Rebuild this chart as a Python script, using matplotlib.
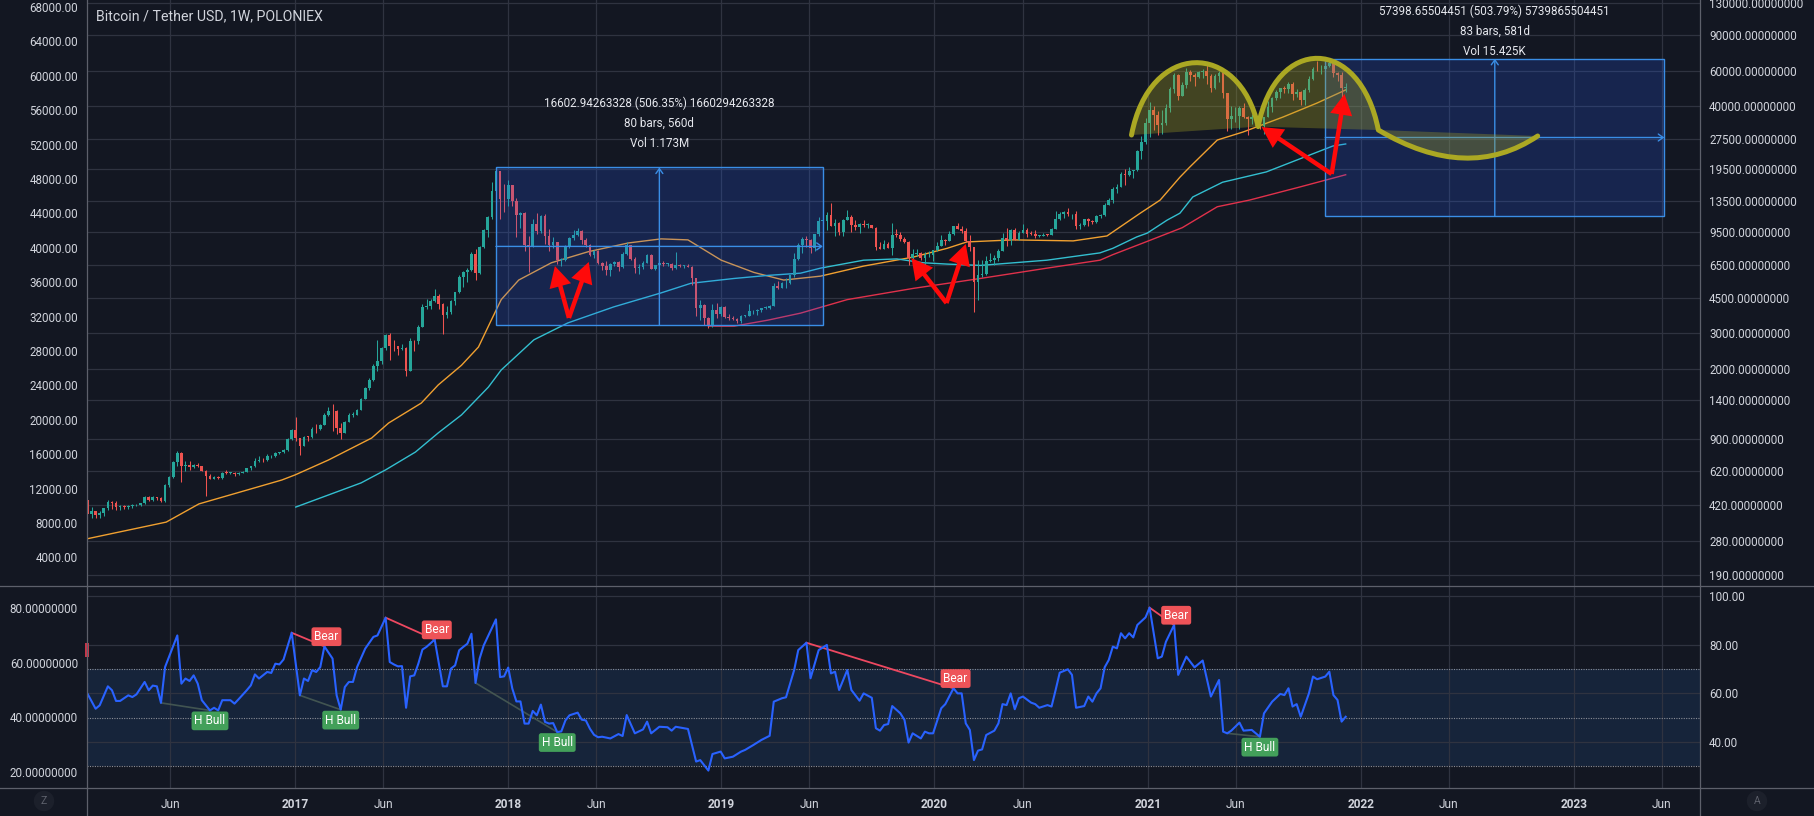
import numpy as np
import matplotlib
matplotlib.use("Agg")
import matplotlib.pyplot as plt
import matplotlib.dates as mdates
from matplotlib.path import Path
from matplotlib.patches import PathPatch, Rectangle
from matplotlib.lines import Line2D
from matplotlib.ticker import NullLocator

plt.rcParams['font.family'] = ['Roboto', 'DejaVu Sans']

# ---------------- data ----------------
first_week = '2016-01-11'   # weekly bars: open, high, low, close

ohlc_2016 = [
    (448, 450, 360, 382), (382, 410, 365, 392), (392, 396, 362, 376), (376, 395, 365, 385),
    (385, 408, 370, 407), (407, 445, 400, 437), (437, 443, 405, 432), (432, 440, 400, 412),
    (412, 420, 398, 415), (415, 420, 405, 410), (410, 420, 405, 416), (416, 425, 408, 420),
    (420, 425, 415, 423), (423, 432, 418, 430), (430, 465, 428, 460), (460, 470, 440, 448),
    (448, 465, 440, 460), (460, 463, 445, 455), (455, 460, 435, 440), (440, 535, 438, 530),
    (530, 590, 520, 580), (580, 700, 575, 690), (690, 780, 660, 760), (760, 770, 550, 660),
    (660, 700, 620, 665), (665, 700, 630, 650), (650, 675, 640, 665), (665, 680, 650, 655),
    (655, 660, 620, 625), (625, 630, 470, 590), (590, 600, 570, 570), (570, 585, 565, 580),
    (580, 590, 565, 572), (572, 615, 570, 608), (608, 630, 600, 607), (607, 612, 600, 608),
    (608, 612, 590, 600), (600, 612, 595, 610), (610, 620, 605, 616), (616, 645, 612, 640),
    (640, 660, 630, 655), (655, 720, 650, 700), (700, 740, 690, 705), (705, 720, 690, 702),
    (702, 755, 695, 735), (735, 750, 725, 735), (735, 770, 730, 765), (765, 775, 755, 772),
    (772, 795, 765, 790), (790, 905, 785, 895), (895, 1000, 890, 995),
]
ohlc_2017 = [
    (995, 1150, 880, 905), (905, 910, 750, 830), (830, 930, 825, 920), (920, 930, 880, 915),
    (915, 1030, 910, 1010), (1010, 1060, 960, 1000), (1000, 1060, 990, 1055), (1055, 1200, 1050, 1180),
    (1180, 1290, 1160, 1240), (1240, 1330, 980, 1230), (1230, 1250, 950, 1020), (1020, 1075, 900, 965),
    (965, 1100, 960, 1090), (1090, 1200, 1085, 1180), (1180, 1220, 1150, 1180), (1180, 1260, 1175, 1250),
    (1250, 1430, 1245, 1420), (1420, 1620, 1410, 1600), (1600, 1800, 1560, 1750), (1750, 2100, 1740, 2050),
    (2050, 2790, 1950, 2180), (2180, 2550, 2100, 2520), (2520, 2980, 2480, 2950), (2950, 2990, 2200, 2600),
    (2600, 2780, 2450, 2580), (2580, 2600, 2330, 2500), (2500, 2640, 2480, 2520), (2520, 2560, 1830, 1950),
    (1950, 2850, 1940, 2750), (2750, 2790, 2450, 2730), (2730, 3280, 2650, 3220), (3220, 4200, 3200, 4050),
    (4050, 4450, 3950, 4100), (4100, 4450, 3950, 4350), (4350, 4950, 4300, 4600), (4600, 4700, 3950, 4200),
    (4200, 4250, 2970, 3700), (3700, 4100, 3550, 3800), (3800, 4400, 3750, 4350), (4350, 4820, 4150, 4800),
    (4800, 5850, 4750, 5700), (5700, 6100, 5100, 6000), (6000, 6280, 5400, 6150), (6150, 7600, 6100, 7400),
    (7400, 7880, 5500, 5950), (5950, 8100, 5900, 8000), (8000, 9800, 7900, 9700), (9700, 11400, 9000, 11300),
    (11300, 16800, 11000, 15200), (15200, 19880, 15000, 19000), (19000, 19200, 11000, 13900),
    (13900, 16500, 12000, 13800),
]
ohlc_2018 = [
    (13800, 17200, 12800, 16200), (16200, 16300, 12800, 13600), (13600, 14100, 9000, 11500),
    (11500, 12000, 10000, 11800), (11800, 11900, 7700, 8200), (8200, 9100, 6000, 8100),
    (8100, 11000, 8000, 10400), (10400, 11800, 9300, 9600), (9600, 11500, 9400, 11400),
    (11400, 11700, 8300, 9100), (9100, 9900, 7700, 8200), (8200, 9000, 7900, 8500),
    (8500, 8500, 6600, 6900), (6900, 7100, 6450, 6900), (6900, 8200, 6800, 8000),
    (8000, 9000, 7900, 8900), (8900, 9750, 8700, 9250), (9250, 9950, 9100, 9650),
    (9650, 9700, 8300, 8700), (8700, 8900, 8050, 8200), (8200, 8300, 7250, 7350),
    (7350, 7750, 7050, 7700), (7700, 7780, 6600, 6700), (6700, 6750, 6150, 6450),
    (6450, 6800, 5850, 6150), (6150, 6650, 5780, 6600), (6600, 6800, 6450, 6750),
    (6750, 6800, 6100, 6350), (6350, 7550, 6300, 7400), (7400, 8500, 7300, 8200),
    (8200, 8250, 6900, 7000), (7000, 7150, 5950, 6300), (6300, 6600, 5900, 6400),
    (6400, 6800, 6250, 6700), (6700, 7380, 6650, 7300), (7300, 7420, 6250, 6250),
    (6250, 6550, 6150, 6500), (6500, 6800, 6200, 6700), (6700, 6800, 6450, 6600),
    (6600, 6700, 6450, 6600), (6600, 6650, 6150, 6300), (6300, 7580, 6250, 6500),
    (6500, 6600, 6400, 6450), (6450, 6500, 6300, 6450), (6450, 6580, 6350, 6400),
    (6400, 6450, 5200, 5600), (5600, 5600, 3650, 4000), (4000, 4400, 3500, 4150),
    (4150, 4200, 3300, 3550), (3550, 3600, 3170, 3250), (3250, 4200, 3220, 3900),
    (3900, 4250, 3550, 3750), (3750, 4100, 3650, 4050),
]
ohlc_2019 = [
    (4050, 4100, 3550, 3600), (3600, 3750, 3480, 3560), (3560, 3650, 3480, 3530), (3530, 3550, 3380, 3440),
    (3440, 3700, 3370, 3650), (3650, 3700, 3590, 3660), (3660, 4200, 3650, 3850), (3850, 3900, 3750, 3870),
    (3870, 3950, 3700, 3900), (3900, 4000, 3800, 4000), (4000, 4100, 3950, 4000), (4000, 4150, 3950, 4100),
    (4100, 5300, 4080, 5150), (5150, 5450, 4950, 5050), (5050, 5350, 5000, 5300), (5300, 5650, 5050, 5300),
    (5300, 5850, 5250, 5800), (5800, 7500, 5700, 7000), (7000, 8350, 6900, 8200), (8200, 8950, 7500, 8750),
    (8750, 9050, 8000, 8700), (8700, 8800, 7450, 7950), (7950, 9350, 7700, 9300), (9300, 11300, 9100, 10800),
    (10800, 13850, 10300, 10800), (10800, 12000, 9700, 11500), (11500, 13200, 10200, 10200),
    (10200, 11000, 9100, 10500), (10500, 10650, 9250, 9500), (9500, 11000, 9100, 10900),
    (10900, 12300, 10900, 11300), (11300, 11500, 9500, 10300), (10300, 10950, 9700, 10100),
    (10100, 10600, 9400, 10400), (10400, 10900, 10100, 10300), (10300, 10500, 10000, 10300),
    (10300, 10350, 9950, 10000), (10000, 10050, 7750, 8050), (8050, 8500, 7800, 7850),
    (7850, 8650, 7800, 8300), (8300, 8450, 7900, 7950), (7950, 10500, 7300, 9250),
    (9250, 9800, 8950, 9200), (9200, 9500, 8600, 8800), (8800, 9000, 8400, 8500),
    (8500, 8550, 6500, 7100), (7100, 7800, 7000, 7400), (7400, 7850, 7250, 7500),
    (7500, 7600, 6900, 7100), (7100, 7550, 6450, 7300), (7300, 7650, 7150, 7300),
    (7300, 7600, 6850, 7750),
]
ohlc_2020 = [
    (7750, 8450, 7700, 8150), (8150, 9200, 8100, 8700), (8700, 8800, 8250, 8600), (8600, 9600, 8550, 9350),
    (9350, 10150, 9150, 10150), (10150, 10500, 9800, 9900), (9900, 10250, 9450, 9650), (9650, 9950, 8500, 8550),
    (8550, 9200, 7700, 8000), (8000, 8000, 3800, 5350), (5350, 6900, 4400, 5800), (5800, 6950, 5700, 5900),
    (5900, 7200, 5850, 6800), (6800, 7450, 6750, 6900), (6900, 7300, 6550, 7100), (7100, 7800, 6850, 7700),
    (7700, 9450, 7650, 8900), (8900, 10000, 8100, 8700), (8700, 9850, 8200, 9700), (9700, 9950, 8700, 8700),
    (8700, 9600, 8650, 9450), (9450, 10400, 9400, 9750), (9750, 9950, 9000, 9350), (9350, 9600, 9200, 9300),
    (9300, 9750, 8850, 9100), (9100, 9250, 8950, 9100), (9100, 9450, 9050, 9250), (9250, 9300, 9050, 9200),
    (9200, 9950, 9150, 9900), (9900, 12100, 9900, 11050), (11050, 11900, 10950, 11700),
    (11700, 12100, 11200, 11900), (11900, 12450, 11400, 11650), (11650, 11700, 11100, 11700),
    (11700, 12100, 9900, 10250), (10250, 10600, 9850, 10300), (10300, 11100, 10200, 11050),
    (11050, 11150, 10150, 10750), (10750, 10950, 10400, 10650), (10650, 11500, 10550, 11400),
    (11400, 11700, 11200, 11500), (11500, 13250, 11400, 13000), (13000, 14100, 12950, 13750),
    (13750, 15950, 13250, 15500), (15500, 16500, 14800, 16000), (16000, 18800, 15950, 18400),
    (18400, 19450, 16300, 18200), (18200, 19900, 18100, 19150), (19150, 19400, 17600, 19250),
    (19250, 24200, 19050, 23900), (23900, 28400, 21850, 26500), (26500, 34800, 26000, 33000),
]
ohlc_2021 = [
    (33000, 41900, 28000, 38200), (38200, 40100, 30400, 36000), (36000, 37800, 28900, 32300),
    (32300, 38500, 29200, 33100), (33100, 40900, 32300, 39200), (39200, 49700, 37400, 48600),
    (48600, 58300, 46300, 57400), (57400, 57500, 43000, 45100), (45100, 52600, 44900, 51200),
    (51200, 61700, 49200, 59000), (59000, 60600, 53300, 57400), (57400, 58600, 50400, 55800),
    (55800, 60000, 55400, 58900), (58900, 61200, 55500, 60000), (60000, 64800, 51500, 56200),
    (56200, 57500, 47000, 49000), (49000, 58000, 48800, 56600), (56600, 59500, 53000, 58200),
    (58200, 59600, 43800, 46400), (46400, 46600, 30000, 34700), (34700, 40000, 31000, 35700),
    (35700, 39500, 33500, 35800), (35800, 40000, 31000, 39100), (39100, 41300, 34800, 35500),
    (35500, 35800, 28800, 34700), (34700, 36600, 32700, 35300), (35300, 35500, 32100, 34200),
    (34200, 34500, 31000, 31800), (31800, 35400, 29300, 35400), (35400, 42500, 35400, 39800),
    (39800, 44700, 37500, 43800), (43800, 48100, 43000, 47000), (47000, 49400, 43900, 49300),
    (49300, 50500, 46400, 48800), (48800, 52900, 46500, 51800), (51800, 52900, 43000, 46000),
    (46000, 48800, 44700, 47200), (47200, 47400, 40600, 43200), (43200, 49200, 40800, 48200),
    (48200, 56600, 47100, 54900), (54900, 62900, 54000, 61500), (61500, 67000, 59600, 61000),
    (61000, 63700, 58000, 61300), (61300, 64300, 59400, 63300), (63300, 69000, 62300, 65500),
    (65500, 66300, 55600, 58600), (58600, 59300, 53500, 57300), (57300, 59100, 42000, 49400),
    (49400, 51900, 47300, 50100),
]

# moving averages (date, value)
sma50 = [('2016-01-11', 287), ('2016-05-25', 347), ('2016-07-20', 427), ('2016-12-09', 561),
         ('2017-01-01', 595), ('2017-02-27', 705), ('2017-05-12', 906), ('2017-06-10', 1075),
         ('2017-08-05', 1350), ('2017-09-03', 1660), ('2017-10-13', 2080), ('2017-11-11', 2560),
         ('2017-12-03', 3480), ('2017-12-20', 4400), ('2018-01-19', 5500), ('2018-03-16', 6700),
         ('2018-05-18', 7600), ('2018-07-26', 8400), ('2018-09-20', 8800), ('2018-11-05', 8700),
         ('2019-01-01', 6900), ('2019-02-26', 6000), ('2019-04-18', 5500), ('2019-06-20', 5750),
         ('2019-09-02', 6450), ('2019-11-26', 7150), ('2020-01-23', 7900), ('2020-02-26', 8500),
         ('2020-05-15', 8700), ('2020-08-26', 8600), ('2020-10-23', 9100), ('2020-12-19', 11800),
         ('2021-01-22', 13700), ('2021-02-25', 17800), ('2021-03-14', 20000), ('2021-04-30', 27200),
         ('2021-06-13', 29800), ('2021-08-21', 35400), ('2021-10-18', 41500), ('2021-12-06', 48200)]
sma100 = [('2017-01-02', 412), ('2017-02-27', 473), ('2017-04-24', 543), ('2017-06-05', 630),
          ('2017-07-26', 772), ('2017-09-03', 960), ('2017-10-13', 1180), ('2017-11-28', 1620),
          ('2017-12-20', 1970), ('2018-02-14', 2780), ('2018-04-13', 3370), ('2018-07-01', 4050),
          ('2018-09-20', 4750), ('2018-11-10', 5300), ('2019-01-23', 5600), ('2019-03-22', 5800),
          ('2019-05-17', 5950), ('2019-06-20', 6300), ('2019-09-02', 6900), ('2019-10-29', 7000),
          ('2019-12-13', 6700), ('2020-01-23', 6600), ('2020-03-20', 6500), ('2020-07-12', 6900),
          ('2020-10-11', 7500), ('2020-11-02', 7900), ('2020-12-13', 9000), ('2020-12-31', 9400),
          ('2021-02-03', 10900), ('2021-02-25', 11800), ('2021-03-19', 14200), ('2021-05-09', 16800),
          ('2021-07-23', 18900), ('2021-09-23', 22200), ('2021-11-14', 25400), ('2021-12-06', 26000)]
sma200 = [('2018-12-10', 3250), ('2019-01-23', 3250), ('2019-03-22', 3480), ('2019-05-17', 3770),
          ('2019-08-05', 4400), ('2019-11-26', 5000), ('2020-03-20', 5600), ('2020-07-12', 6300),
          ('2020-10-11', 6900), ('2020-11-02', 7350), ('2020-12-24', 8400), ('2021-03-01', 10000),
          ('2021-04-30', 12700), ('2021-06-24', 13700), ('2021-09-18', 15900), ('2021-12-06', 18300)]

# RSI (week number from first_week, value)
rsi_2016 = [(0, 59.9), (2, 53.7), (3, 55.1), (5, 62.9), (6, 61.3), (7, 56.9), (8, 56.9), (10, 59.2),
            (11, 58.5), (12, 59.6), (14, 64.7), (15, 61.3), (16, 63.2), (17, 62.9), (18, 56.1),
            (19, 70.8), (22, 83.8), (23, 64.0), (24, 66.1), (25, 65.1), (26, 67.4), (27, 64.0),
            (28, 57.2), (30, 53.0), (31, 54.1), (32, 53.0), (33, 57.2), (35, 57.2), (36, 55.8),
            (37, 57.6), (39, 61.3), (40, 63.3), (41, 67.8), (42, 66.1), (44, 68.8), (45, 68.4),
            (46, 72.2), (47, 71.9), (48, 73.9), (50, 84.9)]
rsi_2017 = [(52, 59.2), (53, 66.1), (54, 65.1), (55, 69.5), (56, 68.8), (57, 70.8), (58, 79.3),
            (60, 74.3), (61, 59.2), (62, 53.3), (63, 62.6), (64, 64.7), (65, 64.7), (66, 70.8),
            (68, 78.4), (70, 83.2), (71, 83.8), (73, 91.1), (74, 72.9), (75, 71.9), (76, 71.1),
            (77, 71.2), (78, 54.1), (79, 67.0), (80, 67.4), (81, 72.2), (82, 78.0), (83, 79.1),
            (85, 82.1), (86, 72.5), (87, 62.9), (88, 62.9), (89, 70.2), (90, 71.5), (91, 77.7),
            (92, 79.1), (93, 80.4), (94, 84.5), (95, 64.3), (96, 74.3), (97, 79.7), (100, 90.4),
            (101, 66.7), (102, 67.0)]
rsi_2018 = [(103, 70.6), (104, 62.0), (105, 56.7), (106, 56.7), (107, 47.6), (108, 47.6), (109, 52.8),
            (110, 51.0), (111, 55.4), (112, 48.3), (113, 47.6), (114, 47.8), (115, 44.1), (116, 44.4),
            (117, 48.9), (118, 51.0), (120, 52.1), (121, 49.2), (122, 48.9), (123, 45.5), (124, 43.0),
            (125, 42.0), (126, 42.2), (128, 41.5), (130, 43.3), (131, 42.5), (132, 51.1), (134, 43.6),
            (136, 45.2), (137, 48.4), (138, 43.6), (140, 46.3), (142, 46.1), (143, 44.7), (144, 46.3),
            (147, 45.4), (149, 32.0), (150, 32.6), (152, 28.3), (153, 35.1), (155, 36.1)]
rsi_2019 = [(156, 33.3), (158, 34.0), (160, 36.1), (161, 36.8), (163, 38.8), (165, 40.9), (167, 42.6),
            (168, 56.6), (170, 58.0), (171, 58.4), (173, 69.6), (174, 77.8), (176, 80.8), (177, 66.2),
            (179, 77.8), (181, 79.9), (182, 68.2), (183, 68.9), (184, 61.4), (186, 69.6), (187, 61.4),
            (189, 57.0), (190, 60.0), (192, 58.2), (193, 45.7), (194, 44.7), (195, 47.0), (196, 47.4),
            (197, 54.8), (199, 51.8), (200, 49.1), (201, 39.8), (202, 43.6), (204, 41.5), (205, 44.3),
            (206, 43.6), (207, 43.6)]
rsi_2020 = [(209, 53.9), (210, 55.6), (212, 62.1), (213, 60.0), (214, 60.0), (215, 47.7), (216, 45.0),
            (217, 32.6), (218, 36.5), (219, 37.0), (220, 42.9), (222, 44.7), (223, 47.7), (224, 55.6),
            (225, 55.2), (226, 60.0), (227, 53.5), (228, 58.0), (229, 58.7), (231, 56.2), (232, 55.6),
            (233, 54.1), (235, 55.2), (236, 54.6), (237, 61.4), (238, 68.5), (240, 69.9), (241, 67.6),
            (242, 54.1), (244, 54.8), (245, 58.7), (246, 56.6), (247, 60.0), (248, 62.1), (249, 70.7),
            (250, 73.7), (251, 79.2), (252, 78.5), (253, 84.7), (254, 82.6), (255, 84.7), (256, 83.0),
            (257, 88.1), (259, 91.2)]
rsi_2021 = [(260, 95.2), (262, 74.4), (263, 75.1), (264, 81.2), (266, 88.1), (267, 67.6), (269, 75.1),
            (271, 70.7), (273, 73.5), (275, 58.7), (277, 65.5), (278, 44.3), (279, 43.6), (280, 44.7),
            (282, 48.0), (283, 44.7), (285, 45.0), (286, 43.6), (287, 42.2), (288, 51.8), (290, 56.6),
            (292, 59.8), (293, 59.3), (294, 62.1), (295, 54.6), (296, 55.6), (297, 50.4), (299, 60.0),
            (300, 66.9), (301, 65.8), (303, 66.9), (304, 68.9), (305, 59.3), (306, 57.3), (307, 48.4),
            (308, 50.4)]

# divergences (from week, to week)
bear_divs = [(50, 58), (73, 85), (176, 212), (260, 266)]
bull_divs = [(18, 30), (52, 62), (95, 115), (279, 287)]

# date/price range tools: start, end, high, low, texts
range1 = ('2017-12-11', '2019-06-24', 19882.2, 3279.3,
          ['16602.94263328 (506.35%) 1660294263328', '80 bars, 560d', 'Vol 1.173M'])
range2 = ('2021-11-01', '2023-06-05', 68792.3, 11393.6,
          ['57398.65504451 (503.79%) 5739865504451', '83 bars, 581d', 'Vol 15.425K'])

# hand-drawn arrows: (base date, base price) -> (tip date, tip price)
arrows = [(('2018-04-15', 3570), ('2018-03-22', 6455)), (('2018-04-15', 3570), ('2018-05-19', 6760)),
          (('2020-01-22', 4230), ('2019-11-23', 7070)), (('2020-01-22', 4230), ('2020-02-24', 8300)),
          (('2021-11-12', 18460), ('2021-07-15', 31560)), (('2021-11-12', 18460), ('2021-12-04', 46000))]

# double top + projected cup drawing (bezier points: date, price)
hump1 = [('2020-12-04', 28800), ('2021-01-04', 85200), ('2021-06-07', 85200), ('2021-07-09', 31700)]
hump2 = [('2021-07-09', 31700), ('2021-08-08', 90200), ('2021-12-30', 90200), ('2022-01-31', 30500)]
cup = [('2022-01-31', 30500), ('2022-07-03', 16640), ('2022-10-31', 28480)]

price_ticks = [130000, 90000, 60000, 40000, 27500, 19500, 13500, 9500, 6500, 4500, 3000, 2000,
               1400, 900, 620, 420, 280, 190]
left_ticks = list(range(4000, 68001, 4000))
rsi_ticks = [40, 60, 80, 100]
rsi_left_ticks = [20, 40, 60, 80]
xtick_dates = ['2016-06-01', '2017-01-01', '2017-06-01', '2018-01-01', '2018-06-01', '2019-01-01',
               '2019-06-01', '2020-01-01', '2020-06-01', '2021-01-01', '2021-06-01', '2022-01-01',
               '2022-06-01', '2023-01-01', '2023-06-01']
xtick_labels = ['Jun', '2017', 'Jun', '2018', 'Jun', '2019', 'Jun', '2020', 'Jun', '2021', 'Jun',
                '2022', 'Jun', '2023', 'Jun']

# ---------------- style / layout ----------------
BG = '#131722'
GRID = '#2f3340'
BORDER = '#5d606b'
TXT = '#d1d4dc'
UP, DOWN = '#26a69a', '#ef5350'
OLIVE = '#aba823'
W, H = 1814, 816
PL, PR, MAIN_BOT, RSI_BOT = 87, 1700, 586, 788


def dn(s):
    return mdates.date2num(np.datetime64(s))


x_left = dn('2017-01-01') + (PL - 295.2) / 0.5836
x_right = dn('2017-01-01') + (PR - 295.2) / 0.5836

ohlc = np.array(ohlc_2016 + ohlc_2017 + ohlc_2018 + ohlc_2019 + ohlc_2020 + ohlc_2021, dtype=float)
o, h, l, c = ohlc.T
weeks = np.datetime64(first_week) + np.arange(len(ohlc)) * 7
xw = mdates.date2num(weeks)

fig = plt.figure(figsize=(W / 100, H / 100), dpi=100, facecolor=BG)
ax = fig.add_axes([PL / W, 1 - MAIN_BOT / H, (PR - PL) / W, MAIN_BOT / H])
axr = fig.add_axes([PL / W, 1 - RSI_BOT / H, (PR - PL) / W, (RSI_BOT - MAIN_BOT) / H])
for a in (ax, axr):
    a.set_facecolor(BG)
    a.set_xlim(x_left, x_right)
    for s in a.spines.values():
        s.set_visible(False)

# ---- main pane ----
ax.set_yscale('log')
ax.set_ylim(167.3, 134530)
axl = ax.twinx()
ax.yaxis.tick_right()
axl.yaxis.tick_left()
axl.set_ylim(674, 68814)
for s in axl.spines.values():
    s.set_visible(False)

ax.set_yticks(price_ticks)
ax.set_yticklabels([f'{v:.8f}' for v in price_ticks])
ax.yaxis.set_minor_locator(NullLocator())
axl.set_yticks(left_ticks)
axl.set_yticklabels([f'{v:.2f}' for v in left_ticks])
for a in (ax, axl):
    a.tick_params(axis='y', which='both', length=0, pad=6.5, labelsize=8.4, labelcolor=TXT)
    a.tick_params(axis='x', length=0, labelbottom=False)

xt = [dn(d) for d in xtick_dates]
for v in price_ticks:
    ax.axhline(v, color=GRID, lw=0.9, zorder=0.5)
for v in xt:
    ax.axvline(v, color=GRID, lw=0.9, zorder=0.5)
    axr.axvline(v, color=GRID, lw=0.9, zorder=0.5)

# moving averages
for series, col in ((sma50, '#f0a030'), (sma100, '#33bfd0'), (sma200, '#e0314b')):
    ax.plot([dn(d) for d, _ in series], [v for _, v in series], color=col, lw=1.0, zorder=2)

# candles
cols = np.where(c >= o, UP, DOWN)
ax.vlines(xw, l, h, colors=cols, lw=0.75, zorder=3)
lo = np.minimum(o, c)
hi = np.maximum(np.maximum(o, c), lo * 1.008)
ax.bar(xw, hi - lo, bottom=lo, width=4.6, color=cols, linewidth=0, zorder=4)

# range boxes
for i, (d0, d1, ptop, pbot, texts) in enumerate((range1, range2)):
    x0, x1 = dn(d0), dn(d1)
    ax.add_patch(Rectangle((x0, pbot), x1 - x0, ptop - pbot, facecolor=(0.16, 0.38, 1.0, 0.2),
                           edgecolor='#3a8ee6', lw=1.0, zorder=5))
    xm = (x0 + x1) / 2
    pm = np.sqrt(ptop * pbot)
    ap = dict(arrowstyle='->,head_length=0.35,head_width=0.25', color='#3a8ee6', lw=1.0,
              shrinkA=0, shrinkB=0)
    ax.annotate('', xy=(x1, pm), xytext=(x0, pm), arrowprops=ap, zorder=5)
    ax.annotate('', xy=(xm, ptop), xytext=(xm, pbot), arrowprops=ap, zorder=5)
    offs = (46.1, 31.7, 17.3) if i == 0 else (34.3, 19.9, 5.5)
    for t, off in zip(texts, offs):
        ax.annotate(t, xy=(xm, ptop), xytext=(0, off), textcoords='offset points', ha='center',
                    va='center', fontsize=8.4, color='#e6e8ee', zorder=7)

# double top + cup drawing
def pts(lst):
    return [(dn(d), v) for d, v in lst]

h1, h2, cp = pts(hump1), pts(hump2), pts(cup)
C4, C3 = Path.CURVE4, Path.CURVE3
fillc = (0.66, 0.65, 0.14, 0.32)
for verts, codes in ((h1 + [h1[0]], [Path.MOVETO, C4, C4, C4, Path.CLOSEPOLY]),
                     (h2 + [h2[0]], [Path.MOVETO, C4, C4, C4, Path.CLOSEPOLY]),
                     (cp + [cp[0]], [Path.MOVETO, C3, C3, Path.CLOSEPOLY])):
    ax.add_patch(PathPatch(Path(verts, codes), facecolor=fillc, edgecolor='none', zorder=5.5))
stroke = h1 + h2[1:] + cp[1:]
codes = [Path.MOVETO, C4, C4, C4, C4, C4, C4, C3, C3]
ax.add_patch(PathPatch(Path(stroke, codes), fill=False, edgecolor=OLIVE, lw=3.6,
                       capstyle='round', joinstyle='round', zorder=6))

# red arrows
for (bd, bp), (td, tp) in arrows:
    ax.annotate('', xy=(dn(td), tp), xytext=(dn(bd), bp),
                arrowprops=dict(arrowstyle='simple,head_length=15,head_width=16,tail_width=3.2',
                                mutation_scale=1, color='#ff0a0a', lw=0, shrinkA=0, shrinkB=0),
                zorder=7)

# ---- RSI pane ----
axr.set_ylim(21.15, 104.1)
axr2 = axr.twinx()
axr.yaxis.tick_right()
axr2.yaxis.tick_left()
axr2.set_ylim(14.19, 88.04)
for s in axr2.spines.values():
    s.set_visible(False)
axr.set_yticks(rsi_ticks)
axr.set_yticklabels([f'{v:.2f}' for v in rsi_ticks])
axr2.set_yticks(rsi_left_ticks)
axr2.set_yticklabels([f'{v:.8f}' for v in rsi_left_ticks])
for a in (axr, axr2):
    a.tick_params(axis='y', length=0, pad=6.5, labelsize=8.4, labelcolor=TXT)

axr.axhspan(30, 70, color='#16243a', zorder=0.2, lw=0)
for v in rsi_ticks:
    axr.axhline(v, color=GRID, lw=0.9, zorder=0.5)
for v in (30, 50, 70):
    axr.axhline(v, color='#8a8d96', lw=0.8, ls=(0, (1, 1.2)), zorder=0.6)

rsi = dict(rsi_2016 + rsi_2017 + rsi_2018 + rsi_2019 + rsi_2020 + rsi_2021)
rw = np.array(sorted(rsi))
axr.plot(xw[rw], [rsi[k] for k in rw], color='#2962ff', lw=1.5, zorder=3, solid_joinstyle='round')

for a0, a1 in bull_divs:
    axr.plot([xw[a0], xw[a1]], [rsi[a0], rsi[a1]], color='#4d6157', lw=1.2, alpha=0.8, zorder=2.5)
    axr.annotate('H Bull', xy=(xw[a1], rsi[a1]), xytext=(0, -7.5), textcoords='offset points',
                 ha='center', va='center', fontsize=8.6, color='white', zorder=5,
                 bbox=dict(boxstyle='round,pad=0.24,rounding_size=0.2', fc='#43a05a', ec='none'))
for a0, a1 in bear_divs:
    axr.plot([xw[a0], xw[a1]], [rsi[a0], rsi[a1]], color='#ee4860', lw=1.3, zorder=2.5)
    axr.annotate('Bear', xy=(xw[a1], rsi[a1]), xytext=(1.5, 7), textcoords='offset points',
                 ha='center', va='center', fontsize=8.6, color='white', zorder=5,
                 bbox=dict(boxstyle='round,pad=0.24,rounding_size=0.2', fc='#ee5358', ec='none'))

axr.set_xticks(xt)
axr.set_xticklabels(xtick_labels)
axr.tick_params(axis='x', length=0, pad=7, labelsize=8.6, labelcolor=TXT)
for lbl in axr.get_xticklabels():
    if lbl.get_text() != 'Jun':
        lbl.set_fontweight('bold')

# ---- frame lines and decorations ----
def fline(x0, y0, x1, y1):
    fig.add_artist(Line2D([x0 / W, x1 / W], [1 - y0 / H, 1 - y1 / H], transform=fig.transFigure,
                          color=BORDER, lw=0.9))

fline(PL, 0, PL, H)
fline(PR, 0, PR, H)
fline(0, MAIN_BOT, W, MAIN_BOT)
fline(0, RSI_BOT, W, RSI_BOT)

fig.text(96 / W, 1 - 16 / H, 'Bitcoin / Tether USD, 1W, POLONIEX', ha='left', va='center',
         fontsize=10.2, color=TXT)
for xp, letter in ((44, 'Z'), (1757, 'A')):
    fig.text(xp / W, 1 - 801 / H, letter, ha='center', va='center', fontsize=7.5, color='#5d606b',
             bbox=dict(boxstyle='circle,pad=0.5', fc='#1c202b', ec='none'))
fig.add_artist(Rectangle((85 / W, 1 - 657 / H), 4 / W, 14 / H, transform=fig.transFigure,
                         color='#c7364a', lw=0))

fig.savefig('out.png', dpi=100, facecolor=BG)
